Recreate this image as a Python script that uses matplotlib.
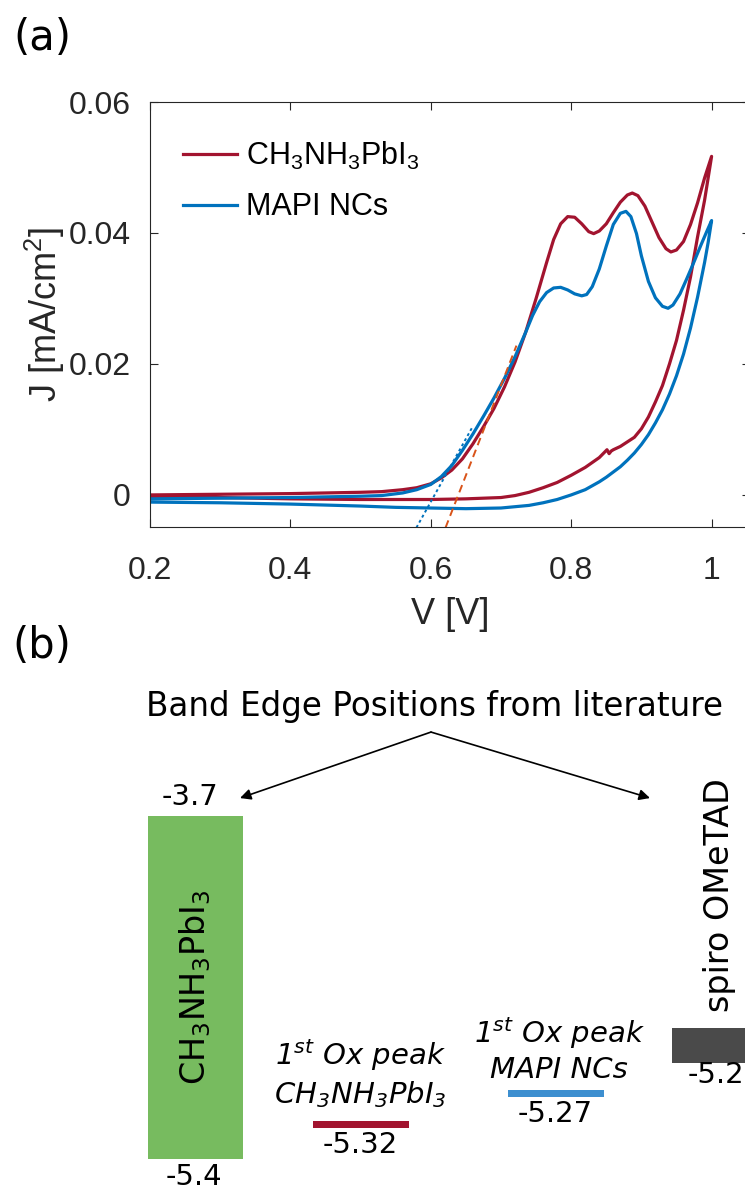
import matplotlib
matplotlib.use('Agg')
import matplotlib.pyplot as plt

# ---------------- data: panel (a) cyclic voltammograms ----------------
# CH3NH3PbI3 film, forward (anodic) sweep
mapi_fwd_v = [0.20, 0.30, 0.40, 0.45, 0.50, 0.53, 0.56, 0.58, 0.60, 0.615, 0.63, 0.645,
              0.66, 0.675, 0.69, 0.705, 0.72, 0.735, 0.75, 0.765, 0.775, 0.785, 0.795,
              0.805, 0.815, 0.825, 0.832, 0.84, 0.85, 0.86, 0.87, 0.88, 0.887, 0.895,
              0.905, 0.915, 0.925, 0.935, 0.942, 0.95, 0.96, 0.97, 0.98, 0.99, 1.00]
mapi_fwd_j = [0.0000, 0.0001, 0.0002, 0.0003, 0.0004, 0.0005, 0.0008, 0.0011, 0.0017,
              0.0026, 0.0038, 0.0055, 0.0078, 0.0104, 0.0132, 0.0165, 0.0203, 0.0248,
              0.0300, 0.0355, 0.0390, 0.0414, 0.0425, 0.0424, 0.0414, 0.0402, 0.0399,
              0.0403, 0.0414, 0.0431, 0.0447, 0.0458, 0.0461, 0.0457, 0.0441, 0.0417,
              0.0393, 0.0376, 0.0371, 0.0374, 0.0387, 0.0413, 0.0446, 0.0484, 0.0517]
# CH3NH3PbI3 film, reverse sweep
mapi_rev_v = [1.00, 0.99, 0.98, 0.97, 0.96, 0.95, 0.94, 0.93, 0.92, 0.91, 0.90, 0.89,
              0.88, 0.87, 0.86, 0.857, 0.854, 0.851, 0.84, 0.82, 0.80, 0.78, 0.76, 0.74,
              0.72, 0.70, 0.65, 0.60, 0.55, 0.50, 0.40, 0.30, 0.20]
mapi_rev_j = [0.0517, 0.0450, 0.0394, 0.0333, 0.0282, 0.0236, 0.0200, 0.0167, 0.0142,
              0.0119, 0.0101, 0.0088, 0.0081, 0.0074, 0.0069, 0.0067, 0.0063, 0.0069,
              0.0057, 0.0042, 0.0030, 0.0019, 0.0011, 0.0004, -0.0001, -0.0004, -0.0006,
              -0.0007, -0.0007, -0.0007, -0.0006, -0.0004, -0.0003]
# MAPI nanocrystals, forward sweep
nc_fwd_v = [0.20, 0.30, 0.40, 0.45, 0.50, 0.53, 0.56, 0.58, 0.60, 0.615, 0.63, 0.645,
            0.66, 0.675, 0.69, 0.705, 0.72, 0.735, 0.745, 0.755, 0.765, 0.775, 0.785,
            0.795, 0.805, 0.815, 0.822, 0.83, 0.84, 0.85, 0.86, 0.87, 0.878, 0.885,
            0.893, 0.90, 0.91, 0.92, 0.93, 0.938, 0.945, 0.955, 0.965, 0.975, 0.985,
            0.993, 1.00]
nc_fwd_j = [-0.0006, -0.0005, -0.0004, -0.0003, -0.0002, -0.0001, 0.0003, 0.0008, 0.0016,
            0.0028, 0.0045, 0.0068, 0.0093, 0.0120, 0.0148, 0.0178, 0.0211, 0.0248,
            0.0274, 0.0295, 0.0309, 0.0316, 0.0317, 0.0313, 0.0307, 0.0304, 0.0306,
            0.0318, 0.0345, 0.0380, 0.0413, 0.0430, 0.0433, 0.0425, 0.0399, 0.0365,
            0.0326, 0.0301, 0.0288, 0.0285, 0.0290, 0.0307, 0.0331, 0.0356, 0.0382,
            0.0402, 0.0419]
# MAPI nanocrystals, reverse sweep
nc_rev_v = [1.00, 0.995, 0.99, 0.98, 0.97, 0.96, 0.95, 0.94, 0.93, 0.92, 0.91, 0.90,
            0.89, 0.88, 0.87, 0.86, 0.85, 0.84, 0.82, 0.80, 0.78, 0.76, 0.74, 0.72,
            0.70, 0.65, 0.60, 0.55, 0.50, 0.40, 0.30, 0.20]
nc_rev_j = [0.0419, 0.0385, 0.0355, 0.0302, 0.0255, 0.0215, 0.0182, 0.0154, 0.0130,
            0.0110, 0.0092, 0.0077, 0.0064, 0.0053, 0.0043, 0.0035, 0.0027, 0.0020,
            0.0008, 0.0000, -0.0007, -0.0012, -0.0016, -0.0018, -0.0020, -0.0021,
            -0.0020, -0.0019, -0.0017, -0.0014, -0.0012, -0.0011]
# onset tangents (end points)
tan_mapi_v = [0.621, 0.722]
tan_mapi_j = [-0.0050, 0.0228]
tan_nc_v = [0.5795, 0.660]
tan_nc_j = [-0.0050, 0.0105]

series_labels = [r'CH$\mathregular{_3}$NH$\mathregular{_3}$PbI$\mathregular{_3}$', 'MAPI NCs']
x_ticks = [0.2, 0.4, 0.6, 0.8, 1.0]
x_tick_labels = ['0.2', '0.4', '0.6', '0.8', '1']
y_ticks = [0, 0.02, 0.04, 0.06]
y_tick_labels = ['0', '0.02', '0.04', '0.06']

# ---------------- data: panel (b) energy levels (eV) ----------------
perov_cb = -3.7
perov_vb = -5.4
ox_mapi = -5.32
ox_nc = -5.27
spiro_homo = -5.22
ox_mapi_label = '1$\\mathregular{^{st}}$ Ox peak\nCH$\\mathregular{_3}$NH$\\mathregular{_3}$PbI$\\mathregular{_3}$'
ox_nc_label = '1$\\mathregular{^{st}}$ Ox peak\nMAPI NCs'
perov_label = r'CH$\mathregular{_3}$NH$\mathregular{_3}$PbI$\mathregular{_3}$'
spiro_label = 'spiro OMeTAD'
lit_title = 'Band Edge Positions from literature'

RED = '#A2142F'
BLUE = '#0072BD'
ORANGE = '#D95319'
AX_COL = '#262626'

W, H = 745, 1194
fig = plt.figure(figsize=(W / 100, H / 100), dpi=100)

# ---------------- panel (a) ----------------
ax = fig.add_axes([150 / W, (H - 527) / H, 600 / W, 425 / H])
ax.plot(mapi_fwd_v + mapi_rev_v, mapi_fwd_j + mapi_rev_j, color=RED, lw=2.3,
        label=series_labels[0], solid_joinstyle='round')
ax.plot(nc_fwd_v + nc_rev_v, nc_fwd_j + nc_rev_j, color=BLUE, lw=2.3,
        label=series_labels[1], solid_joinstyle='round')
ax.plot(tan_mapi_v, tan_mapi_j, color=ORANGE, lw=1.4, ls=(0, (4, 2.5)))
ax.plot(tan_nc_v, tan_nc_j, color=BLUE, lw=1.4, ls=(0, (1.5, 1.5)))

ax.set_xlim(0.2, 0.2 + 600 / 702 * 1.0)
ax.set_ylim(-0.0049, 0.06)
ax.set_xticks(x_ticks)
ax.set_xticklabels(x_tick_labels)
ax.set_yticks(y_ticks)
ax.set_yticklabels(y_tick_labels)
ax.tick_params(direction='in', length=6, width=0.8, colors=AX_COL,
               top=True, right=True, labelsize=23, pad=14)
ax.tick_params(axis='x', pad=21)
for lab in ax.get_xticklabels() + ax.get_yticklabels():
    lab.set_family('Liberation Sans')
for sp in ax.spines.values():
    sp.set_color(AX_COL)
    sp.set_linewidth(0.8)
ax.set_xlabel('V [V]', fontsize=26, family='Liberation Sans', color=AX_COL, labelpad=8)
ax.set_ylabel(r'J [mA/cm$\mathregular{^2}$]', fontsize=26, family='Liberation Sans',
              color=AX_COL, labelpad=1)
leg = ax.legend(loc='upper left', bbox_to_anchor=(0.02, 0.962), frameon=False,
                prop={'family': 'Liberation Sans', 'size': 22},
                handlelength=1.75, handletextpad=0.3, labelspacing=0.68,
                borderaxespad=0.3)

fig.text(42 / W, 1 - 38 / H, '(a)', fontsize=30, ha='center', va='center')
fig.text(42 / W, 1 - 646 / H, '(b)', fontsize=30, ha='center', va='center')

# ---------------- panel (b) ----------------
bx = fig.add_axes([0, 0, 1, (H - 680) / H])
bx.set_xlim(0, W)
bx.set_ylim(-5.573, -3.026)
bx.axis('off')

fs_num = 21
# green perovskite band
bx.bar(195.5, perov_vb - perov_cb, bottom=perov_cb, width=95, color='#77BB5F')
bx.text(195.5, (perov_cb + perov_vb) / 2, perov_label, rotation=90,
        ha='center', va='center', fontsize=24)
bx.text(190, perov_cb + 0.094, f'{perov_cb:g}', ha='center', va='center', fontsize=fs_num)
bx.text(194, perov_vb - 0.089, f'{perov_vb:g}', ha='center', va='center', fontsize=fs_num)

# first oxidation peaks (schematic positions)
bx.bar(361, -0.035, bottom=-5.211, width=96, color=RED)
bx.text(360, -5.330, f'{ox_mapi:g}', ha='center', va='center', fontsize=fs_num)
bx.text(360, -4.976, ox_mapi_label, ha='center', va='center', fontsize=21,
        style='italic', linespacing=1.25)

bx.bar(556, -0.034, bottom=-5.058, width=96, color='#3D8FD0')
bx.text(555, -5.177, f'{ox_nc:g}', ha='center', va='center', fontsize=fs_num)
bx.text(559, -4.860, ox_nc_label, ha='center', va='center', fontsize=21,
        style='italic', linespacing=1.25)

# spiro-OMeTAD HOMO
bx.bar(720, -0.173, bottom=-4.751, width=96, color='#4A4A4A')
bx.text(720, -4.091, spiro_label, rotation=90, ha='center', va='center', fontsize=24)
bx.text(688, -4.983, '-5.2', ha='left', va='center', fontsize=fs_num)

# title + arrows
bx.text(434, -3.155, lit_title, ha='center', va='center', fontsize=23.5)
for tip_x in (240, 650):
    bx.annotate('', xy=(tip_x, -3.611), xytext=(431, -3.284),
                arrowprops=dict(arrowstyle='-|>', color='black', lw=1.2,
                                mutation_scale=16, shrinkA=0, shrinkB=0))

fig.savefig('out.png', dpi=100)
